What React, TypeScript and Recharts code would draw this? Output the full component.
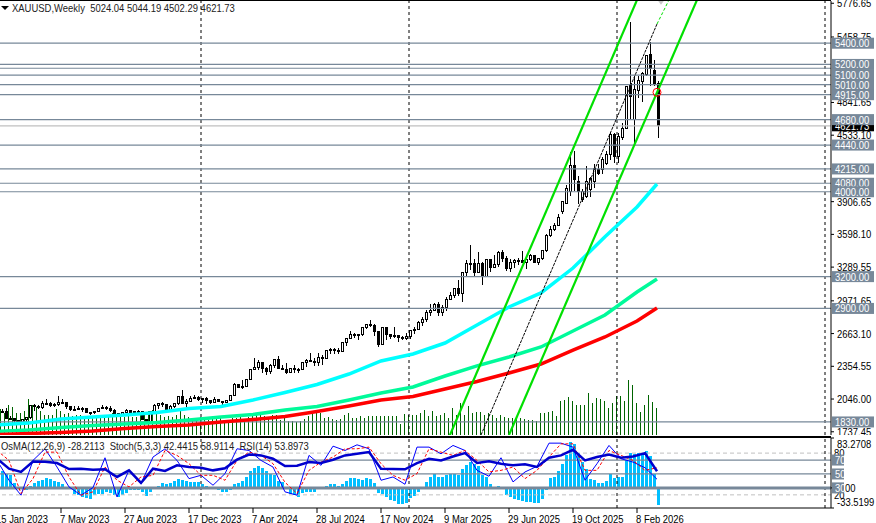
// XAUUSD weekly terminal chart: candles, averages, channel and an oscillator panel
import {
  ComposedChart,
  Bar,
  Line,
  XAxis,
  YAxis,
  ReferenceLine,
  ReferenceDot,
} from "recharts";

const FONT = '"Liberation Sans", Arial, sans-serif';
const SQUEEZE = 0.86;

const opens = [
  1920, 1927, 1929, 1865, 1865, 1842, 1811, 1855, 1868, 1989, 1978, 1969, 2007, 2004, 1982, 1990,
  2017, 2011, 1977, 1946, 1948, 1961, 1958, 1921, 1919, 1925, 1955, 1962, 1959, 1942, 1914, 1889,
  1915, 1940, 1919, 1924, 1925, 1849, 1833, 1932, 1981, 2006, 1992, 1940, 1980, 2001, 2072, 2004,
  2019, 2053, 2062, 2045, 2049, 2029, 2018, 2039, 2024, 2013, 2035, 2083, 2179, 2155, 2165, 2233,
  2329, 2344, 2391, 2337, 2301, 2360, 2415, 2334, 2327, 2293, 2332, 2321, 2326, 2391, 2411, 2401,
  2387, 2442, 2431, 2507, 2512, 2503, 2497, 2577, 2621, 2658, 2653, 2657, 2721, 2747, 2736, 2684,
  2563, 2716, 2650, 2633, 2648, 2622, 2621, 2640, 2690, 2703, 2771, 2800, 2861, 2883, 2936, 2858,
  2909, 2984, 3023, 3084, 3037, 3237, 3327, 3319, 3240, 3325, 3205, 3357, 3290, 3310, 3432, 3368,
  3273, 3337, 3355, 3350, 3337, 3362, 3396, 3335, 3371, 3447, 3586, 3643, 3685, 3813, 3891, 4001,
  4252, 4095, 3925, 3954, 4017, 4095, 4205, 4205, 4268, 4347, 4535, 4331, 4513, 4598, 5007, 4683,
  4959, 5038, 5101, 5289, 5142, 5024.04,
];
const highs = [
  1938, 1949, 1960, 1890, 1870, 1848, 1858, 1870, 1990, 2003, 1988, 2032, 2048, 2015, 2009, 2079,
  2048, 2022, 1985, 1983, 1979, 1971, 1959, 1925, 1935, 1965, 1987, 1982, 1976, 1949, 1918, 1925,
  1953, 1944, 1933, 1947, 1936, 1858, 1933, 1997, 2009, 2019, 1993, 1988, 2007, 2075, 2135, 2047,
  2070, 2088, 2078, 2048, 2062, 2036, 2065, 2045, 2031, 2041, 2088, 2195, 2186, 2222, 2234, 2330,
  2431, 2417, 2392, 2352, 2378, 2422, 2450, 2364, 2387, 2335, 2368, 2338, 2392, 2424, 2483, 2432,
  2477, 2462, 2509, 2531, 2528, 2528, 2585, 2626, 2685, 2670, 2660, 2723, 2758, 2790, 2750, 2686,
  2717, 2721, 2657, 2726, 2653, 2638, 2665, 2695, 2725, 2785, 2817, 2886, 2942, 2955, 2956, 2930,
  3005, 3057, 3087, 3167, 3245, 3358, 3500, 3368, 3435, 3340, 3366, 3365, 3403, 3446, 3451, 3398,
  3365, 3368, 3377, 3439, 3345, 3409, 3404, 3378, 3450, 3600, 3674, 3707, 3791, 3915, 4059, 4379,
  4381, 4150, 4030, 4245, 4135, 4265, 4260, 4330, 4380, 4567, 4550, 4550, 4645, 5000, 5603, 5090,
  5091, 5125, 5280, 5415, 5242, 5044.19,
];
const lows = [
  1896, 1917, 1861, 1853, 1818, 1808, 1804, 1809, 1858, 1935, 1949, 1952, 1986, 1969, 1974, 1976,
  2003, 1952, 1936, 1932, 1940, 1925, 1910, 1893, 1902, 1923, 1949, 1943, 1928, 1910, 1885, 1884,
  1914, 1915, 1901, 1913, 1846, 1810, 1829, 1908, 1953, 1970, 1933, 1931, 1965, 1993, 1995, 1973,
  2016, 2045, 2024, 2013, 2002, 2001, 2016, 2014, 1984, 2008, 2024, 2078, 2150, 2145, 2160, 2228,
  2325, 2324, 2291, 2277, 2280, 2340, 2325, 2320, 2286, 2288, 2295, 2293, 2319, 2350, 2393, 2353,
  2353, 2364, 2430, 2470, 2470, 2472, 2485, 2547, 2614, 2624, 2603, 2640, 2708, 2722, 2644, 2537,
  2563, 2605, 2613, 2625, 2583, 2603, 2599, 2615, 2656, 2700, 2730, 2772, 2832, 2877, 2832, 2832,
  2880, 2975, 3000, 3015, 2957, 3194, 3260, 3202, 3240, 3120, 3205, 3245, 3290, 3293, 3340, 3255,
  3247, 3282, 3309, 3325, 3268, 3346, 3331, 3311, 3352, 3435, 3576, 3627, 3685, 3790, 3885, 3960,
  4004, 3886, 3905, 3940, 3950, 4040, 4160, 4170, 4250, 4300, 4268, 4275, 4490, 4590, 4680, 4438,
  4881, 4849, 5090, 4997, 4997, 4502.29,
];
const closes = [
  1927, 1929, 1865, 1865, 1842, 1811, 1855, 1868, 1989, 1978, 1969, 2007, 2004, 1982, 1990, 2017,
  2011, 1977, 1946, 1948, 1961, 1958, 1921, 1919, 1925, 1955, 1962, 1959, 1942, 1914, 1889, 1915,
  1940, 1919, 1924, 1925, 1849, 1833, 1932, 1981, 2006, 1992, 1940, 1980, 2001, 2072, 2004, 2019,
  2053, 2062, 2045, 2049, 2029, 2018, 2039, 2024, 2013, 2035, 2083, 2179, 2155, 2165, 2233, 2329,
  2344, 2391, 2337, 2301, 2360, 2415, 2334, 2327, 2293, 2332, 2321, 2326, 2391, 2411, 2401, 2387,
  2442, 2431, 2507, 2512, 2503, 2497, 2577, 2621, 2658, 2653, 2657, 2721, 2747, 2736, 2684, 2563,
  2716, 2650, 2633, 2648, 2622, 2621, 2640, 2690, 2703, 2771, 2800, 2861, 2883, 2936, 2858, 2909,
  2984, 3023, 3084, 3037, 3237, 3327, 3319, 3240, 3325, 3205, 3357, 3290, 3310, 3432, 3368, 3273,
  3337, 3355, 3350, 3337, 3362, 3396, 3335, 3371, 3447, 3586, 3643, 3685, 3760, 3907, 4033, 4252,
  4113, 4001, 4000, 4095, 4127, 4221, 4174, 4300, 4347, 4535, 4331, 4520, 4598, 4991, 4897, 4966,
  5044, 5110, 5280, 5164, 5016, 4621.73,
];
const volumes = [
  22, 26, 22, 30, 28, 22, 22, 24, 36, 30, 28, 24, 20, 20, 20, 26,
  24, 21, 22, 19, 20, 20, 19, 17, 17, 18, 18, 20, 20, 22, 21, 19,
  18, 19, 18, 18, 20, 21, 24, 25, 22, 20, 18, 19, 18, 20, 26, 20,
  18, 14, 15, 18, 17, 15, 18, 16, 17, 13, 14, 17, 17, 18, 16, 18,
  20, 21, 21, 19, 17, 20, 20, 15, 17, 14, 14, 13, 14, 16, 19, 21,
  22, 22, 17, 18, 16, 15, 16, 20, 22, 17, 17, 19, 17, 19, 19, 19,
  19, 19, 19, 19, 19, 11, 21, 20, 20, 20, 22, 25, 19, 24, 19, 20,
  22, 17, 27, 20, 32, 20, 29, 22, 23, 23, 20, 22, 20, 17, 20, 18,
  17, 17, 16, 17, 16, 15, 15, 14, 22, 22, 23, 24, 19, 34, 35, 38,
  34, 30, 30, 30, 42, 32, 37, 36, 34, 27, 32, 39, 39, 34, 55, 50,
  32, 23, 30, 40, 33, 27,
];

// moving averages, plus the last bar
const maFast = [
  1801, 1820, 1858, 1877, 1896, 1919, 1957, 1976, 2037, 2108, 2183,
  2282, 2405, 2471, 2574, 2744, 2914, 3046, 3281, 3575, 3856, 4073,
];
const maMid = [
  1740, 1754, 1778, 1797, 1811, 1825, 1848, 1877, 1900, 1943, 1976,
  2037, 2103, 2160, 2263, 2358, 2442, 2537, 2687, 2838, 3055, 3178,
];
const maSlow = [
  1712, 1721, 1731, 1745, 1768, 1787, 1801, 1830, 1853, 1881, 1929,
  1980, 2037, 2070, 2141, 2211, 2292, 2376, 2508, 2631, 2782, 2904,
];

// OsMA per bar
const osma = [
  30, 28, 24, 21, 8, 0, -2, -4, 3, 8, 11, 14, 17, 15, 12, 10,
  6, 1, 0, -10, -12, -15, -17, -18, -12, -10, -10, -7, -8, -11, -15, -12,
  -9, -4, -4, -4, -7, -14, -7, -1, 3, 8, 7, 8, 11, 15, 14, 11,
  10, 10, 10, 7, 3, 0, -1, -4, -7, -6, -3, 6, 8, 12, 19, 28,
  33, 36, 34, 28, 23, 21, 12, 10, -1, -10, -12, -15, -9, -7, -7, -6,
  -2, 0, 4, 6, 6, 4, 7, 11, 16, 17, 15, 14, 17, 15, 8, -8,
  -10, -15, -20, -22, -27, -27, -25, -17, -14, -7, -1, 10, 18, 23, 19, 18,
  21, 23, 23, 22, 32, 39, 43, 40, 36, 21, 18, 6, 0, 3, 1, -12,
  -15, -18, -21, -22, -23, -23, -25, -25, -19, -4, 17, 19, 29, 40, 55, 76,
  74, 58, 43, 31, 15, 14, 8, 8, 11, 23, 17, 18, 18, 47, 58, 56,
  58, 59, 62, 54, 24, -28.2113,
];

// oscillators
const rsi = [
  71.9, 57.6, 52.9, 68, 67.6, 65.7, 57.1, 57.6, 56.2, 56.7, 45.7, 55.2, 37.1, 57.6,
  54.3, 62.4, 60, 59, 55.2, 58.1, 70.5, 78, 76.7, 71.9, 61.4, 61.9, 67.1, 65.7,
  70.5, 76.7, 79, 81.4, 57.6, 57.1, 56.7, 65.7, 71.9, 69.5, 75.2, 80, 65.7, 68.1,
  64.8, 62.4, 63.8, 60, 73.3, 76.7, 84.8, 69.5, 74.3, 78.1, 73.3, 75.2, 80, 53.8973,
];
const stochMain = [
  69.5, 41, 19.5, 69.5, 86.2, 60, 31.4, 19.5, 30.5, 73.3, 17.1, 55.2, 36.2, 74.3,
  86.2, 69.5, 43.3, 48.1, 33.8, 50.5, 86.2, 83.8, 69.5, 60, 24.3, 19.5, 76.7, 62.4,
  90, 83.8, 91.9, 86.2, 41, 45.7, 35.2, 88.6, 88.6, 79, 91, 83.8, 55.2, 46.7,
  73.3, 38.6, 52.9, 61, 94.3, 94.3, 88.6, 41, 64.8, 91, 71.9, 67.1, 59, 42.4415,
];
const stochSignal = [
  83.8, 69.5, 21.9, 43.3, 81.4, 81.4, 45.7, 19.5, 24.3, 60, 41, 31.4, 45.7, 48,
  83.8, 76.7, 64.8, 48.1, 48.1, 41, 69.5, 81.4, 76.7, 64.8, 38, 21.9, 55.2, 67,
  74.3, 86.2, 86.2, 88.6, 64.8, 48, 41, 50.5, 86.2, 81.4, 76.7, 83.8, 69.5, 52.9,
  55.2, 60, 43.3, 55.2, 74.3, 93.3, 93.3, 55.2, 55.2, 83.8, 76.7, 69.5, 55.2, 58.9114,
];

// channel ends as [bar, price]
const channelLeft = [[113, 1686], [161, 5895]];
const channelRight = [[128, 1707], [175, 5808]];
const channelMid = [[121, 1707], [165, 5581]];
const channelMidTop = [[165, 5581], [168, 5808]];

const levels = [5400, 5200, 5100, 5010, 4915, 4680, 4440, 4215, 4080, 4000, 3200, 2900, 1830];
const unlabelledLevel = 5164;
const lastPrice = 4621.73;
const priceTicks = [
  5776.65, 5458.75, 4841.65, 4533.1, 3906.65, 3598.1, 3289.55, 2971.65, 2663.1, 2354.55, 2046, 1737.45,
];
const oscLevels = [70, 50, 30];
const oscDashed = [80, 20];
const oscTicks = [83.2708, 0, -33.5199];
const dateLabels = [
  "15 Jan 2023", "7 May 2023", "27 Aug 2023", "17 Dec 2023", "7 Apr 2024", "28 Jul 2024",
  "17 Nov 2024", "9 Mar 2025", "29 Jun 2025", "19 Oct 2025", "8 Feb 2026",
];
const yearBars = [51, 103, 155, 207];

const MONTHS = ["Jan", "Feb", "Mar", "Apr", "May", "Jun", "Jul", "Aug", "Sep", "Oct", "Nov", "Dec"];
const SLOTS = 209;
const weeks = Array.from({ length: SLOTS }, (_, i) => {
  const d = new Date(Date.UTC(2023, 0, 15 + i * 7));
  return `${d.getUTCDate()} ${MONTHS[d.getUTCMonth()]} ${d.getUTCFullYear()}`;
});

const LAST = opens.length - 1;
const every8 = (list: number[], i: number) =>
  i === LAST ? list[list.length - 1] : i % 8 === 0 && i < LAST ? list[i / 8] : null;
const every3 = (list: number[], i: number) => (i % 3 === 0 && i <= LAST ? list[i / 3] : null);
const segment = (ends: number[][], i: number) => ends.find((e) => e[0] === i)?.[1] ?? null;

const table = weeks.map((week, i) => ({
  week,
  open: opens[i] ?? null,
  high: highs[i] ?? null,
  low: lows[i] ?? null,
  close: closes[i] ?? null,
  volume: volumes[i] ?? null,
  osma: osma[i] ?? null,
  fast: every8(maFast, i),
  mid: every8(maMid, i),
  slow: every8(maSlow, i),
  rsi: every3(rsi, i),
  stochMain: every3(stochMain, i),
  stochSignal: every3(stochSignal, i),
  left: segment(channelLeft, i),
  right: segment(channelRight, i),
  center: segment(channelMid, i),
  centerTop: segment(channelMidTop, i),
}));

const candleRange = (d: any) => (d.open == null ? null : [d.low, d.high]);

function Candle(props: any) {
  const { x, y, width, height, payload } = props;
  if (payload.open == null) return null;
  const k = height / (payload.high - payload.low);
  const cx = Math.round(x + width / 2);
  const top = y + (payload.high - Math.max(payload.open, payload.close)) * k;
  const bottom = y + (payload.high - Math.min(payload.open, payload.close)) * k;
  const up = payload.close >= payload.open;
  return (
    <g shapeRendering="crispEdges">
      <line x1={cx + 0.5} x2={cx + 0.5} y1={y} y2={y + height} stroke="#000" />
      <rect
        x={cx - 0.5}
        y={top}
        width={2}
        height={Math.max(bottom - top, 1)}
        fill={up ? "#fff" : "#000"}
        stroke="#000"
      />
    </g>
  );
}

// one pixel wide stick or three pixel wide column, snapped to the pixel grid
const stick = (pixels: number, fill: string) =>
  function Stick({ x, y, width, height }: any) {
    const cx = Math.round(x + width / 2);
    return (
      <rect
        x={pixels === 1 ? cx : cx - 1}
        y={Math.min(y, y + height)}
        width={pixels}
        height={Math.abs(height)}
        fill={fill}
        shapeRendering="crispEdges"
      />
    );
  };

function Txt({ x, y, fill, children }: any) {
  return (
    <text
      transform={`translate(${x} ${y}) scale(${SQUEEZE} 1)`}
      fontFamily={FONT}
      fontSize={11}
      fill={fill}
    >
      {children}
    </text>
  );
}

const boxLabel = (text: string, fill: string, boxWidth: number, color = "#fff") =>
  function BoxLabel({ viewBox }: any) {
    const x = viewBox.x + viewBox.width + 1;
    return (
      <g>
        <rect x={x} y={viewBox.y - 5.5} width={boxWidth} height={11} fill={fill} />
        <Txt x={x + 3} y={viewBox.y + 4} fill={color}>
          {text}
        </Txt>
      </g>
    );
  };

const plainLabel = (text: string) =>
  function PlainLabel({ viewBox }: any) {
    return (
      <Txt x={viewBox.x + viewBox.width + 3} y={viewBox.y + 4} fill="#000">
        {text}
      </Txt>
    );
  };

function PriceTick({ x, y, payload }: any) {
  return (
    <Txt x={x + 1} y={y + 4} fill="#000">
      {payload.value.toFixed(2)}
    </Txt>
  );
}

function OscTick({ x, y, payload }: any) {
  const v = payload.value;
  const dy = v > 50 ? 10 : v < -20 ? -2 : 4;
  return (
    <Txt x={x + 1} y={y + dy} fill="#000">
      {v === 0 ? "0.00" : v.toFixed(4)}
    </Txt>
  );
}

function DateTick({ x, y, payload }: any) {
  return (
    <Txt x={x - 1} y={y + 8} fill="#000">
      {payload.value}
    </Txt>
  );
}

function Marker({ cx, cy }: any) {
  return <path d={`M${cx - 5} ${cy - 4}L${cx + 5} ${cy - 4}L${cx} ${cy + 3}Z`} fill="#c8c8c8" />;
}

const maLine = (key: string, color: string) => (
  <Line
    yAxisId="price"
    dataKey={key}
    stroke={color}
    strokeWidth={3.5}
    dot={false}
    connectNulls
    isAnimationActive={false}
  />
);

const channelLine = (key: string, color: string, width: number, dash?: string) => (
  <Line
    yAxisId="price"
    dataKey={key}
    stroke={color}
    strokeWidth={width}
    strokeDasharray={dash}
    dot={false}
    connectNulls
    isAnimationActive={false}
  />
);

const layer = (top: number): any => ({ position: "absolute", left: -5, top });

export default function App() {
  return (
    <div style={{ position: "absolute", left: 0, top: 0, width: 876, height: 523, overflow: "hidden", background: "#fff" }}>
      <div style={layer(0)}>
        <ComposedChart width={881} height={435} data={table} margin={{ top: 1, right: 0, bottom: 0, left: 0 }}>
          <XAxis dataKey="week" hide />
          <YAxis
            yAxisId="price"
            orientation="right"
            width={45}
            domain={[1707, 5798]}
            allowDataOverflow
            ticks={priceTicks}
            interval={0}
            tick={PriceTick}
            tickSize={3}
            stroke="#000"
          />
          <YAxis yAxisId="volume" hide domain={[0, 434]} />
          {yearBars.map((i) => (
            <ReferenceLine key={i} yAxisId="price" x={weeks[i]} stroke="#000" strokeDasharray="3 3" />
          ))}
          <ReferenceLine yAxisId="price" y={unlabelledLevel} stroke="#778899" strokeWidth={1.2} />
          <ReferenceLine yAxisId="price" y={lastPrice} stroke="#c0c0c0" strokeWidth={1.2} />
          {levels.map((v) => (
            <ReferenceLine key={v} yAxisId="price" y={v} stroke="#778899" strokeWidth={1.2} />
          ))}
          <Bar yAxisId="volume" dataKey="volume" barSize={1} shape={stick(1, "#006400")} isAnimationActive={false} />
          <Bar yAxisId="price" dataKey={candleRange} barSize={4} shape={Candle} isAnimationActive={false} />
          {maLine("fast", "#00ffff")}
          {maLine("mid", "#00fa9a")}
          {maLine("slow", "#ff0000")}
          {channelLine("left", "#00e000", 2.2)}
          {channelLine("right", "#00e000", 2.2)}
          {channelLine("center", "#000", 1, "3 1")}
          {channelLine("centerTop", "#00e000", 1, "3 2")}
          <ReferenceDot yAxisId="price" x={weeks[LAST]} y={4937} r={4} fill="none" stroke="#ff0000" />
          <ReferenceDot yAxisId="price" x={weeks[LAST + 1]} y={5790} shape={Marker} />
        </ComposedChart>
      </div>

      <div style={layer(437)}>
        <ComposedChart width={881} height={86} data={table} margin={{ top: 1, right: 0, bottom: 0, left: 0 }}>
          <XAxis
            dataKey="week"
            height={15}
            ticks={dateLabels}
            interval={0}
            tick={DateTick}
            tickSize={5}
            stroke="#000"
          />
          <YAxis
            yAxisId="osma"
            orientation="right"
            width={45}
            domain={[-33.5199, 83.2708]}
            ticks={oscTicks}
            interval={0}
            tick={OscTick}
            tickSize={3}
            stroke="#000"
          />
          <YAxis yAxisId="pct" hide domain={[1.1, 101.7]} />
          {oscDashed.map((v) => (
            <ReferenceLine
              key={v}
              yAxisId="pct"
              y={v}
              stroke="#c0c0c0"
              strokeDasharray="4 3"
              label={plainLabel(String(v))}
            />
          ))}
          <Bar yAxisId="osma" dataKey="osma" barSize={3} shape={stick(3, "#00bfff")} isAnimationActive={false} />
          {yearBars.map((i) => (
            <ReferenceLine key={i} yAxisId="pct" x={weeks[i]} stroke="#000" strokeDasharray="3 3" />
          ))}
          {oscLevels.map((v) => (
            <ReferenceLine
              key={v}
              yAxisId="pct"
              y={v}
              stroke="#778899"
              strokeWidth={v === 30 ? 3 : 1.3}
            />
          ))}
          <Line yAxisId="pct" dataKey="stochMain" stroke="#0000ff" strokeWidth={1} dot={false} connectNulls isAnimationActive={false} />
          <Line yAxisId="pct" dataKey="stochSignal" stroke="#ff0000" strokeWidth={1} strokeDasharray="3 2" dot={false} connectNulls isAnimationActive={false} />
          <Line yAxisId="pct" dataKey="rsi" stroke="#0000cd" strokeWidth={2.5} dot={false} connectNulls isAnimationActive={false} />
        </ComposedChart>
      </div>

      {/* boxed level labels sit above the axis ticks, so they get their own layers */}
      <div style={{ ...layer(0), pointerEvents: "none" }}>
        <ComposedChart width={881} height={435} data={table} margin={{ top: 1, right: 45, bottom: 0, left: 0 }}>
          <XAxis dataKey="week" hide />
          <YAxis yAxisId="price" hide domain={[1707, 5798]} />
          <Line yAxisId="price" dataKey="close" stroke="transparent" dot={false} isAnimationActive={false} />
          <ReferenceLine yAxisId="price" y={lastPrice} stroke="transparent" label={boxLabel("4621.73", "#000", 42)} />
          {levels.map((v) => (
            <ReferenceLine key={v} yAxisId="price" y={v} stroke="transparent" label={boxLabel(v.toFixed(2), "#778899", 42)} />
          ))}
        </ComposedChart>
      </div>
      <div style={{ ...layer(437), pointerEvents: "none" }}>
        <ComposedChart width={881} height={71} data={table} margin={{ top: 1, right: 45, bottom: 0, left: 0 }}>
          <XAxis dataKey="week" hide />
          <YAxis yAxisId="pct" hide domain={[1.1, 101.7]} />
          <Line yAxisId="pct" dataKey="rsi" stroke="transparent" dot={false} isAnimationActive={false} />
          {oscLevels.map((v) => (
            <ReferenceLine key={v} yAxisId="pct" y={v} stroke="transparent" label={boxLabel(String(v), "#778899", 12)} />
          ))}
        </ComposedChart>
      </div>

      <div style={{ position: "absolute", left: -2, top: 0, width: 833, height: 435, borderTop: "1px solid #000", borderBottom: "1px solid #000", boxSizing: "content-box", pointerEvents: "none" }} />
      <div style={{ position: "absolute", left: -2, top: 437, width: 833, height: 70, borderTop: "1px solid #000", pointerEvents: "none" }} />

      <div style={{ position: "absolute", left: 1, top: 6, width: 0, height: 0, borderLeft: "4px solid transparent", borderRight: "4px solid transparent", borderTop: "4px solid #000" }} />
      <div style={{ position: "absolute", left: 12, top: 2, font: `11px ${FONT}`, color: "#222", whiteSpace: "pre", transform: `scaleX(${SQUEEZE})`, transformOrigin: "left" }}>
        {"XAUUSD,Weekly  5024.04 5044.19 4502.29 4621.73"}
      </div>
      <div style={{ position: "absolute", left: 1, top: 440, font: `11px ${FONT}`, color: "#222", whiteSpace: "pre", transform: `scaleX(${SQUEEZE})`, transformOrigin: "left" }}>
        {"OsMA(12,26,9) -28.2113  Stoch(5,3,3) 42.4415 58.9114  RSI(14) 53.8973"}
      </div>
    </div>
  );
}
